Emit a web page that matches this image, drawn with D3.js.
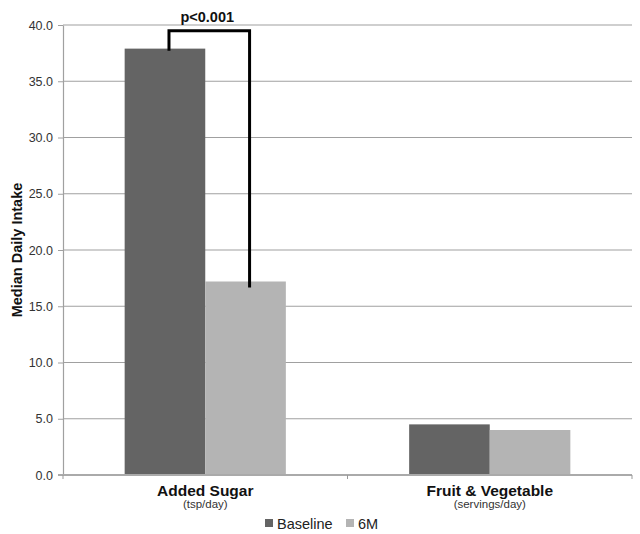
<!DOCTYPE html>
<html><head><meta charset="utf-8">
<script src="https://cdn.jsdelivr.net/npm/d3@7"></script>
<style>body{margin:0;background:#fff}svg{display:block}text{font-family:"Liberation Sans",Arial,sans-serif}</style>
</head><body>
<svg id="c" width="640" height="534"></svg>
<script>
const categories = ["Added Sugar", "Fruit & Vegetable"];
const units = ["(tsp/day)", "(servings/day)"];
const seriesNames = ["Baseline", "6M"];
const baseline = [37.9, 4.5];
const sixMonth = [17.2, 4.0];
const yTicks = [0, 5, 10, 15, 20, 25, 30, 35, 40];
const colors = ["#646464", "#b4b4b4"];

const svg = d3.select("#c");
const m = {left: 63, right: 632, top: 25, bottom: 475};
const x = d3.scaleBand().domain(categories).range([m.left, m.right]);
const x1 = d3.scaleBand().domain(seriesNames).range([0, x.bandwidth()]).paddingInner(0).paddingOuter(0.765);
const y = d3.scaleLinear().domain([0, 40]).range([m.bottom, m.top]);

// gridlines
svg.append("g").selectAll("line").data(yTicks.filter(d => d > 0)).join("line")
  .attr("x1", m.left).attr("x2", m.right).attr("y1", d => y(d)).attr("y2", d => y(d))
  .attr("stroke", "#a0a0a0").attr("stroke-width", 1.2);

// y axis
const ya = svg.append("g").attr("transform", `translate(${m.left},0)`)
  .call(d3.axisLeft(y).tickValues(yTicks).tickFormat(d3.format(".1f")).tickSize(5).tickSizeOuter(0));
ya.select(".domain").attr("stroke", "#a0a0a0").attr("stroke-width", 1.2);
ya.selectAll(".tick line").attr("stroke", "#a0a0a0");
ya.selectAll(".tick text").attr("font-size", 12.5).attr("fill", "#333").attr("x", -10)
  .style("font-family", "'Liberation Sans', Arial, sans-serif");

// bars
const data = categories.map((c, i) => ({c, vals: [baseline[i], sixMonth[i]]}));
const g = svg.append("g");
data.forEach(d => {
  d.vals.forEach((v, j) => {
    g.append("rect")
      .attr("x", x(d.c) + x1(seriesNames[j]))
      .attr("width", x1.bandwidth())
      .attr("y", y(v)).attr("height", y(0) - y(v))
      .attr("fill", colors[j]);
  });
});

// x axis
const xa = svg.append("g").attr("transform", `translate(0,${m.bottom})`);
xa.append("line").attr("x1", m.left - 5).attr("x2", m.right).attr("y1", 0).attr("y2", 0)
  .attr("stroke", "#aaaaaa").attr("stroke-width", 2);
[m.left, m.left + x.step(), m.right].forEach(t => {
  xa.append("line").attr("x1", t).attr("x2", t).attr("y1", 0).attr("y2", 4)
    .attr("stroke", "#999").attr("stroke-width", 1);
});
categories.forEach((c, i) => {
  const cx = x(c) + x.bandwidth() / 2;
  svg.append("text").attr("x", cx).attr("y", 496).attr("text-anchor", "middle")
    .attr("font-size", 15.5).attr("font-weight", "bold").attr("fill", "#111").text(c);
  svg.append("text").attr("x", cx).attr("y", 508).attr("text-anchor", "middle")
    .attr("font-size", 11.5).attr("fill", "#333").text(units[i]);
});

// y title
svg.append("text").attr("transform", `translate(22,${(m.top + m.bottom) / 2}) rotate(-90)`)
  .attr("text-anchor", "middle").attr("font-size", 14.5).attr("font-weight", "bold").attr("fill", "#111")
  .text("Median Daily Intake");

// significance bracket
const xb0 = x(categories[0]) + x1(seriesNames[0]) + x1.bandwidth() * 0.55;
const xb1 = x(categories[0]) + x1(seriesNames[1]) + x1.bandwidth() * 0.55;
svg.append("path")
  .attr("d", `M${xb0},${y(baseline[0]) + 2}V${y(39.5)}H${xb1}V${y(sixMonth[0]) + 6}`)
  .attr("fill", "none").attr("stroke", "#000").attr("stroke-width", 3);
svg.append("text").attr("x", (xb0 + xb1) / 2 - 2).attr("y", 22).attr("text-anchor", "middle")
  .attr("font-size", 14.5).attr("font-weight", "bold").attr("fill", "#111").text("p<0.001");

// legend
const lg = svg.append("g").attr("transform", "translate(265,523)");
const lx = [0, 81];
seriesNames.forEach((s, j) => {
  lg.append("rect").attr("x", lx[j]).attr("y", -4).attr("width", 8).attr("height", 8).attr("fill", colors[j]);
  lg.append("text").attr("x", lx[j] + 12).attr("y", 5.5).attr("font-size", 14.5).attr("fill", "#222").text(s);
});
</script>
</body></html>
